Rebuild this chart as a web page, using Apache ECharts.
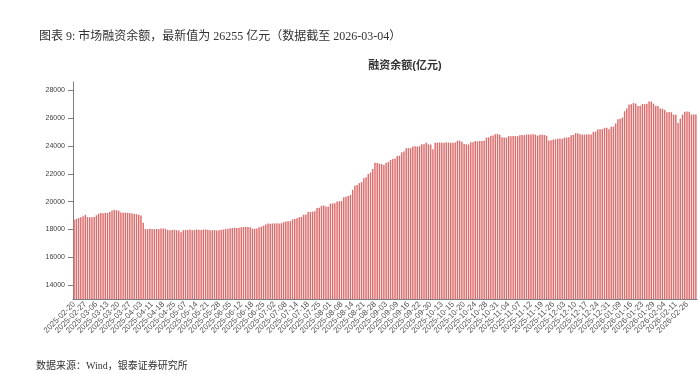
<!DOCTYPE html>
<html><head><meta charset="utf-8">
<script src="https://cdn.jsdelivr.net/npm/echarts@6/dist/echarts.min.js"></script>
<style>html,body{margin:0;padding:0;background:#fff}#c{width:699px;height:374px}</style>
</head><body><div id="c"></div>
<script>
// tick labels shown on the x axis (one every 5 bars)
const tickLabels = [
  '2025-02-20','2025-02-27','2025-03-06','2025-03-13','2025-03-20','2025-03-27','2025-04-03','2025-04-11',
  '2025-04-18','2025-04-25','2025-05-07','2025-05-14','2025-05-21','2025-05-28','2025-06-05','2025-06-12',
  '2025-06-18','2025-06-25','2025-07-02','2025-07-08','2025-07-14','2025-07-18','2025-07-25','2025-08-01',
  '2025-08-08','2025-08-14','2025-08-21','2025-08-28','2025-09-03','2025-09-09','2025-09-16','2025-09-22',
  '2025-09-30','2025-10-13','2025-10-15','2025-10-20','2025-10-24','2025-10-28','2025-10-31','2025-11-04',
  '2025-11-07','2025-11-12','2025-11-19','2025-11-26','2025-12-03','2025-12-10','2025-12-17','2025-12-24',
  '2025-12-31','2026-01-09','2026-01-16','2026-01-23','2026-01-29','2026-02-04','2026-02-11','2026-02-26'
];
// financing balance (亿元)
const balance = [
  18700,18750,18820,18880,18950, 19060,18900,18870,18880,18900,
  19020,19130,19180,19160,19200, 19180,19250,19370,19400,19380,
  19350,19220,19200,19210,19190, 19180,19150,19120,19100,19060,
  19000,18480,18030,18020,18050, 18030,18010,18040,18020,18060,
  18070,18040,17970,17950,17960, 17980,17940,17930,17800,17950,
  17970,17960,17990,17950,17970, 17990,17980,17960,17990,18000,
  17970,17950,17940,17960,17930, 17950,17980,18000,18030,18050,
  18080,18100,18120,18110,18130, 18150,18180,18190,18170,18150,
  18060,18050,18070,18150,18200, 18270,18350,18420,18410,18430,
  18430,18440,18420,18450,18520, 18580,18590,18600,18720,18760,
  18800,18870,18900,19060,19080, 19250,19260,19280,19300,19540,
  19560,19700,19720,19650,19630, 19850,19870,19880,20010,20020,
  20050,20320,20350,20400,20490, 20850,21150,21200,21330,21400,
  21680,21750,21990,22100,22350, 22800,22780,22730,22700,22640,
  22800,22850,23000,23070,23100, 23280,23300,23540,23600,23830,
  23850,23840,23970,23980,23960, 23990,24120,24130,24230,24120,
  24100,23760,24230,24240,24250, 24230,24240,24260,24250,24240,
  24230,24250,24380,24380,24300, 24140,24120,24110,24260,24270,
  24350,24340,24360,24350,24370, 24610,24620,24730,24750,24850,
  24860,24800,24620,24610,24600, 24710,24700,24720,24710,24700,
  24780,24790,24780,24830,24820, 24830,24840,24820,24740,24800,
  24810,24790,24740,24400,24410, 24470,24480,24520,24530,24520,
  24610,24600,24620,24780,24790, 24920,24910,24850,24830,24820,
  24830,24840,24830,25020,25030, 25190,25200,25210,25300,25310,
  25200,25380,25400,25620,25930, 25950,26050,26500,26690,26980,
  27000,27090,27040,26880,26890, 27020,27010,27030,27190,27200,
  27040,26880,26870,26690,26680, 26600,26430,26440,26420,26260,
  26250,25660,25970,26260,26460, 26480,26470,26260,26270,26255
];
const yTicks = [14000,16000,18000,20000,22000,24000,26000,28000];

const categories = balance.map((v, i) => (i % 5 === 0 ? tickLabels[i / 5] : ''));

const chart = echarts.init(document.getElementById('c'), null, {renderer: 'canvas'});
chart.setOption({
  animation: false,
  backgroundColor: '#fff',
  title: [
    {text: '图表 9: 市场融资余额，最新值为 26255 亿元（数据截至 2026-03-04）', left: 34, top: 26,
     textStyle: {fontSize: 12, fontWeight: 'normal', color: '#333', fontFamily: 'Liberation Serif, Noto Sans CJK SC'}},
    {text: '融资余额(亿元)', left: 400, top: 55, textAlign: 'center',
     textStyle: {fontSize: 11, fontWeight: 'bold', color: '#333', fontFamily: 'Liberation Sans, Noto Sans CJK SC'}},
    {text: '数据来源：Wind，银泰证券研究所', left: 31, top: 356,
     textStyle: {fontSize: 10, fontWeight: 'normal', color: '#333', fontFamily: 'Liberation Serif, Noto Sans CJK SC'}}
  ],
  grid: {left: 73, right: 2, top: 82, bottom: 75, containLabel: false},
  xAxis: {
    type: 'category',
    data: categories,
    boundaryGap: true,
    axisLine: {lineStyle: {color: '#7f7f7f', width: 1}},
    axisTick: {interval: 4, alignWithLabel: true, length: 3, lineStyle: {color: '#7f7f7f'}},
    axisLabel: {interval: 4, rotate: 45, fontSize: 8, color: '#555', margin: 4,
      fontFamily: 'Liberation Sans, Arial'}
  },
  yAxis: {
    type: 'value',
    min: 13000,
    max: 28600,
    splitLine: {show: false},
    axisLine: {show: true, lineStyle: {color: '#7f7f7f', width: 1}},
    axisTick: {show: true, length: 5, customValues: yTicks, lineStyle: {color: '#7f7f7f'}},
    axisLabel: {customValues: yTicks, fontSize: 7, color: '#404040', margin: 8,
      fontFamily: 'Liberation Sans, Arial', formatter: v => String(v)}
  },
  series: [{
    type: 'bar',
    data: balance,
    barWidth: '65%',
    itemStyle: {color: '#dc6b6b'}
  }]
});
</script></body></html>
